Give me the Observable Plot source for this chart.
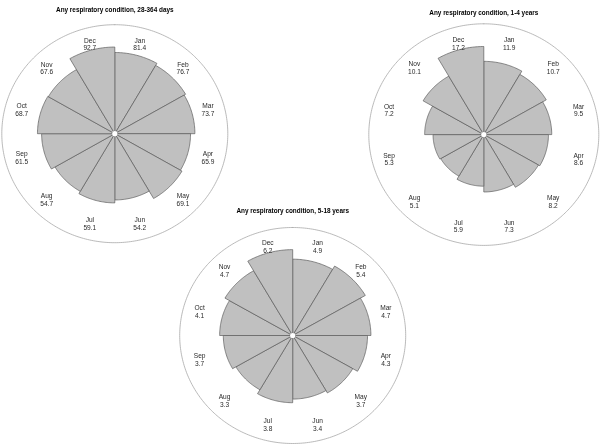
<!DOCTYPE html>
<html>
<head>
<meta charset="utf-8">
<script src="https://cdn.jsdelivr.net/npm/d3@7"></script>
<script src="https://cdn.jsdelivr.net/npm/@observablehq/plot@0.6"></script>
<style>
  html, body { margin: 0; padding: 0; background: #fff; }
  #wrap { position: relative; width: 600px; height: 444px; background: #fff; overflow: hidden; }
  #wrap svg { position: absolute; left: 0; top: 0; will-change: transform; }
</style>
</head>
<body>
<div id="wrap"></div>
<script>
// ---- data ----
const months = ["Jan","Feb","Mar","Apr","May","Jun","Jul","Aug","Sep","Oct","Nov","Dec"];
const infantValues  = [81.4, 76.7, 73.7, 65.9, 69.1, 54.2, 59.1, 54.7, 61.5, 68.7, 67.6, 92.7];
const toddlerValues = [11.9, 10.7, 9.5, 8.6, 8.2, 7.3, 5.9, 5.1, 5.3, 7.2, 10.1, 17.2];
const schoolValues  = [4.9, 5.4, 4.7, 4.3, 3.7, 3.4, 3.8, 3.3, 3.7, 4.1, 4.7, 6.2];
const titles = [
  "Any respiratory condition, 28-364 days",
  "Any respiratory condition, 1-4 years",
  "Any respiratory condition, 5-18 years"
];
const seriesList = [infantValues, toddlerValues, schoolValues];

// ---- layout (pixel placement of each rose) ----
const layouts = [
  {cx: 114.3, cy: 133.2, rx: 113, ry: 109,   titleY: 9},
  {cx: 483.3, cy: 134.1, rx: 115, ry: 110.8, titleY: 12},
  {cx: 292.2, cy: 335,   rx: 113, ry: 108,   titleY: 210.7}
];

const FONT = "'Liberation Sans', Arial, Helvetica, sans-serif";
const rad = d => d * Math.PI / 180;
const wrap = document.getElementById("wrap");

seriesList.forEach((values, k) => {
  const L = layouts[k];
  const vmax = d3.max(values);
  const rScale = d3.scaleSqrt().domain([0, vmax]).range([0, 0.795]);

  // sector polygons
  const sectors = [];
  months.forEach((m, i) => {
    const r = rScale(values[i]);
    const a0 = i * 30, a1 = (i + 1) * 30;
    sectors.push({month: m, x: 0, y: 0});
    for (let a = a0; a <= a1; a += 1) {
      sectors.push({month: m, x: r * Math.sin(rad(a)), y: r * Math.cos(rad(a))});
    }
    sectors.push({month: m, x: 0, y: 0});
  });

  // outer ring
  const ring = d3.range(0, 361, 1).map(a => ({x: Math.sin(rad(a)), y: Math.cos(rad(a))}));

  // labels
  const labels = months.map((m, i) => {
    const a = rad(i * 30 + 15);
    return {text: `${m}\n${values[i].toFixed(1)}`, x: 0.853 * Math.sin(a), y: 0.853 * Math.cos(a)};
  });

  const titleY = (L.cy - L.titleY) / L.ry;

  const plot = Plot.plot({
    width: 600,
    height: 444,
    margin: 0,
    style: {background: "transparent", fontFamily: FONT},
    x: {domain: [-1, 1], range: [L.cx - L.rx, L.cx + L.rx], axis: null},
    y: {domain: [-1, 1], range: [L.cy + L.ry, L.cy - L.ry], axis: null},
    marks: [
      Plot.line(ring, {x: "x", y: "y", stroke: "#a8a8a8", strokeWidth: 0.8, fill: "none"}),
      Plot.line(sectors, {x: "x", y: "y", z: "month", fill: "#c0c0c0", stroke: "#5c5c5c", strokeWidth: 0.7, strokeLinejoin: "miter"}),
      Plot.dot([{x: 0, y: 0}], {x: "x", y: "y", r: 2.6, fill: "white", stroke: "none"}),
      Plot.text(labels, {x: "x", y: "y", text: "text", fontSize: 6.6, lineHeight: 1.15, fill: "#2a2a2a", textAnchor: "middle", lineAnchor: "middle", fontFamily: FONT}),
      Plot.text([titles[k]], {x: () => 0, y: () => titleY, text: d => d, fontSize: 6.4, fontWeight: "bold", fill: "#000", textAnchor: "middle", lineAnchor: "middle", fontFamily: FONT})
    ]
  });
  wrap.appendChild(plot);
});
</script>
</body>
</html>
